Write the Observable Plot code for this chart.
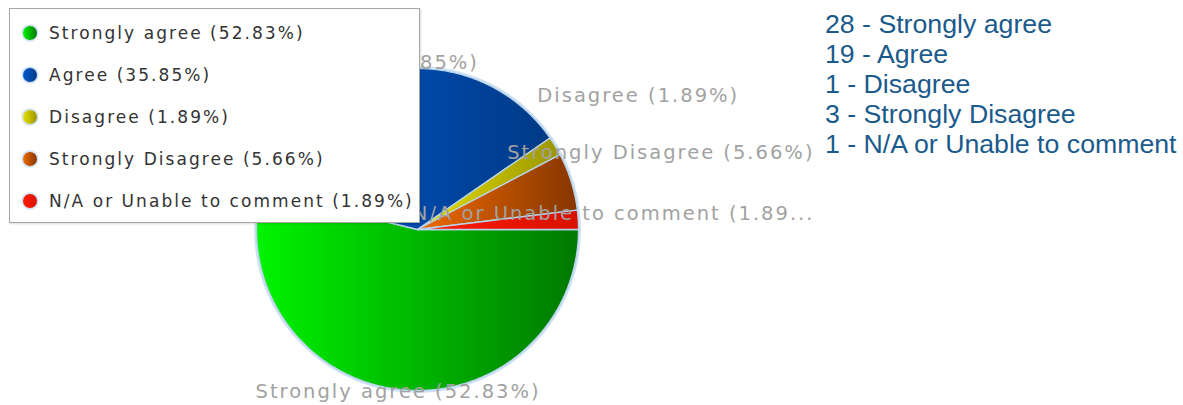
<!DOCTYPE html>
<html>
<head>
<meta charset="utf-8">
<script src="https://cdn.jsdelivr.net/npm/d3@7"></script>
<script src="https://cdn.jsdelivr.net/npm/@observablehq/plot@0.6"></script>
<style>
  html, body { margin: 0; padding: 0; background: #fff; }
  #wrap { position: relative; width: 1183px; height: 405px; overflow: hidden; }
  #chart { position: absolute; left: 0; top: 0; }
  #legend {
    position: absolute; left: 9px; top: 8px; width: 409px; height: 213px;
    background: #fff; border: 1px solid #a6a6a6; box-shadow: 1px 1px 2px rgba(0,0,0,0.15);
    font-family: "DejaVu Sans", sans-serif; font-size: 17px; color: #333; letter-spacing: 2.05px;
  }
  .li { position: absolute; left: 0; height: 20px; line-height: 20px; white-space: nowrap; }
  .mk { position: absolute; left: 13px; top: 3px; width: 14px; height: 14px; border-radius: 50%;
        box-shadow: 0 0 2px 1px rgba(120,170,230,0.6); }
  .lt { position: absolute; left: 39px; top: 0; }
  #counts {
    position: absolute; left: 825px; top: 9px;
    font-family: "Liberation Sans", Arial, sans-serif; font-size: 26.7px; line-height: 30px;
    color: #1a5a8c; white-space: nowrap;
  }
</style>
</head>
<body>
<div id="wrap">
  <div id="chart"></div>
  <div id="legend"></div>
  <div id="counts"></div>
</div>
<script>
// ---- data ----
const categories = ["Strongly agree", "Agree", "Disagree", "Strongly Disagree", "N/A or Unable to comment"];
const counts = [28, 19, 1, 3, 1];
const percents = [52.83, 35.85, 1.89, 5.66, 1.89];
const gradientLight = ["#00f400", "#0058d0", "#e6e200", "#f06a00", "#ff1c00"];
const gradientDark  = ["#007800", "#003a86", "#9a9400", "#853600", "#d81000"];

// ---- layout ----
const W = 1183, H = 405;
const cx = 417, cy = 229, R = 161;
const labelR = 258, labelYMin = 62, labelYMax = 391, labelXMax = 814;
const labelFont = 19.5, labelSpacing = 2;

const rows = categories.map((c, i) => ({key: c, i, pct: percents[i], count: counts[i]}));
const arcs = d3.pie().sort(null).value(d => d.pct)
  .startAngle(Math.PI / 2).endAngle(Math.PI / 2 + 2 * Math.PI)(rows);

// slice polygons in pixel-space data coordinates
const pts = [];
for (const a of arcs) {
  const k = a.data.key;
  pts.push({k, x: cx, y: cy});
  const n = Math.max(2, Math.ceil((a.endAngle - a.startAngle) / (Math.PI / 360)));
  for (let j = 0; j <= n; j++) {
    const t = a.startAngle + (a.endAngle - a.startAngle) * j / n;
    pts.push({k, x: cx + R * Math.sin(t), y: cy - R * Math.cos(t)});
  }
  pts.push({k, x: cx, y: cy});
}

// labels
const ctx = document.createElement("canvas").getContext("2d");
ctx.font = `${labelFont}px "DejaVu Sans"`;
const tw = s => ctx.measureText(s).width + s.length * labelSpacing;
const labels = arcs.map(a => {
  const m = (a.startAngle + a.endAngle) / 2;
  let text = `${a.data.key} (${a.data.pct.toFixed(2)}%)`;
  let x = cx + labelR * Math.sin(m), y = cy - labelR * Math.cos(m);
  if (y < labelYMin || y > labelYMax) {
    y = Math.max(labelYMin, Math.min(labelYMax, y));
    x = cx + R * Math.sin(m);
  }
  let w = tw(text);
  if (x + w / 2 > labelXMax) x = labelXMax - w / 2;
  if (Math.sin(m) > 0.5 && x - w / 2 < cx - 8) {
    const avail = labelXMax - (cx - 8);
    let base = text;
    while (base.length > 1 && tw(base + "...") > avail) base = base.slice(0, -1);
    text = base + "...";
    w = tw(text);
    x = labelXMax - w / 2;
  }
  return {x, y, text};
});

const plot = Plot.plot({
  width: W, height: H,
  marginTop: 0, marginRight: 0, marginBottom: 0, marginLeft: 0,
  x: {domain: [0, W], range: [0, W], axis: null},
  y: {domain: [0, H], range: [0, H], axis: null},
  color: {type: "ordinal", domain: categories, range: categories.map((c, i) => `url(#pg${i})`)},
  marks: [
    Plot.dot([{x: cx, y: cy}], {x: "x", y: "y", r: R + 1, fill: "none", stroke: "#cfe2f4", strokeWidth: 3}),
    Plot.line(pts, {x: "x", y: "y", z: "k", fill: "k", stroke: "#b8d4ec", strokeWidth: 1.3, curve: "linear"}),
    Plot.text(labels, {x: "x", y: "y", text: "text", fill: "#a2a2a2", fontSize: labelFont,
                       fontFamily: "DejaVu Sans", textAnchor: "middle"})
  ]
});

// gradients
const svg = d3.select(plot);
const defs = svg.insert("defs", ":first-child");
categories.forEach((c, i) => {
  const g = defs.append("linearGradient").attr("id", `pg${i}`)
    .attr("x1", 0).attr("y1", 0).attr("x2", 1).attr("y2", 0);
  g.append("stop").attr("offset", "0%").attr("stop-color", gradientLight[i]);
  g.append("stop").attr("offset", "100%").attr("stop-color", gradientDark[i]);
});
svg.selectAll("text").attr("letter-spacing", labelSpacing + "px");
document.getElementById("chart").appendChild(plot);

// legend
const legend = d3.select("#legend");
rows.forEach((d, i) => {
  const li = legend.append("div").attr("class", "li").style("top", `${14 + i * 42}px`);
  li.append("span").attr("class", "mk")
    .style("background", `linear-gradient(to right, ${gradientLight[i]}, ${gradientDark[i]})`);
  li.append("span").attr("class", "lt").text(`${d.key} (${d.pct.toFixed(2)}%)`);
});

// counts list
d3.select("#counts").selectAll("div").data(rows).join("div")
  .text(d => `${d.count} - ${d.key}`);
</script>
</body>
</html>
